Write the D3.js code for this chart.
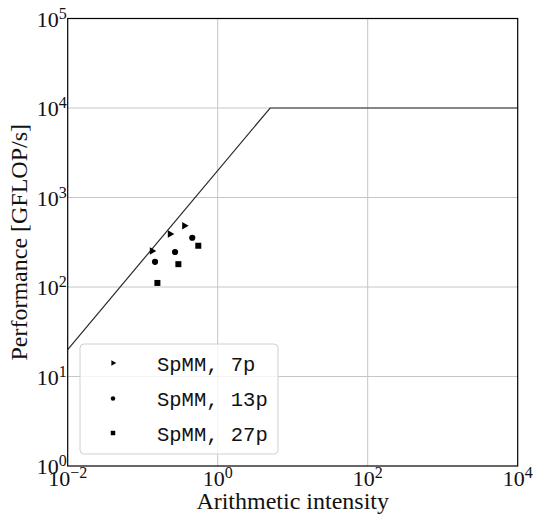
<!DOCTYPE html>
<html>
<head>
<meta charset="utf-8">
<script src="https://cdn.jsdelivr.net/npm/d3@7"></script>
<style>
  body { margin: 0; background: #fff; }
  svg { display: block; }
</style>
</head>
<body>
<svg id="chart" width="534" height="514"></svg>
<script>
// ---- data ----
const seriesNames = ["SpMM, 7p", "SpMM, 13p", "SpMM, 27p"];
const seriesSymbols = ["triangle", "circle", "square"];
const intensity7p = [0.133, 0.231, 0.359];
const perf7p = [252, 391, 484];
const intensity13p = [0.146, 0.270, 0.458];
const perf13p = [191, 246, 355];
const intensity27p = [0.157, 0.299, 0.551];
const perf27p = [111, 180, 289];
const peakPerf = 10000;      // GFLOP/s
const bandwidth = 2000;      // GB/s
const xTickExps = [-2, 0, 2, 4];
const yTickExps = [0, 1, 2, 3, 4, 5];
const xDomain = [1e-2, 1e4];
const yDomain = [1e0, 1e5];

// ---- layout ----
const svg = d3.select("#chart");
const L = 67.7, R = 517.7, T = 18.5, B = 466;
const x = d3.scaleLog().domain(xDomain).range([L, R]);
const y = d3.scaleLog().domain(yDomain).range([B, T]);

const serif = "'Liberation Serif', 'Times New Roman', serif";
const mono = "'Liberation Mono', 'Courier New', monospace";

// grid
svg.append("g").selectAll("line").data(xTickExps.slice(1, -1)).join("line")
  .attr("x1", d => x(Math.pow(10, d))).attr("x2", d => x(Math.pow(10, d)))
  .attr("y1", T).attr("y2", B)
  .attr("stroke", "#c6c6c6").attr("stroke-width", 1);
svg.append("g").selectAll("line").data(yTickExps.slice(1, -1)).join("line")
  .attr("y1", d => y(Math.pow(10, d))).attr("y2", d => y(Math.pow(10, d)))
  .attr("x1", L).attr("x2", R)
  .attr("stroke", "#c6c6c6").attr("stroke-width", 1);

// roofline
const knee = peakPerf / bandwidth;
const roof = [[xDomain[0], bandwidth * xDomain[0]], [knee, peakPerf], [xDomain[1], peakPerf]];
svg.append("path")
  .attr("d", d3.line().x(d => x(d[0])).y(d => y(d[1]))(roof))
  .attr("fill", "none").attr("stroke", "#2a2a2a").attr("stroke-width", 1.2);

// points
const symType = { triangle: d3.symbolTriangle, circle: d3.symbolCircle, square: d3.symbolSquare };
const symSize = { triangle: 24, circle: 30, square: 36 };
const symRot = { triangle: 90, circle: 0, square: 0 };
const series = [
  { xs: intensity7p, ys: perf7p },
  { xs: intensity13p, ys: perf13p },
  { xs: intensity27p, ys: perf27p }
];
series.forEach((s, i) => {
  const sym = seriesSymbols[i];
  const path = d3.symbol().type(symType[sym]).size(symSize[sym])();
  svg.append("g").selectAll("path").data(s.xs.map((v, j) => [v, s.ys[j]])).join("path")
    .attr("d", path)
    .attr("transform", d => `translate(${x(d[0])},${y(d[1])}) rotate(${symRot[sym]})`)
    .attr("fill", "#000");
});

// frame
svg.append("rect").attr("x", L).attr("y", T).attr("width", R - L).attr("height", B - T)
  .attr("fill", "none").attr("stroke", "#000").attr("stroke-width", 1.2);

// tick labels
function powLabel(g, exp) {
  g.append("tspan").text("10");
  g.append("tspan").attr("dy", -8).attr("font-size", 16).text(exp < 0 ? "\u22122" : String(exp));
}
xTickExps.forEach(e => {
  const t = svg.append("text").attr("x", x(Math.pow(10, e))).attr("y", B + 20)
    .attr("text-anchor", "middle").attr("font-family", serif).attr("font-size", 22).attr("fill", "#111");
  powLabel(t, e);
});
yTickExps.forEach(e => {
  const t = svg.append("text").attr("x", L - 1).attr("y", y(Math.pow(10, e)) + 8)
    .attr("text-anchor", "end").attr("font-family", serif).attr("font-size", 22).attr("fill", "#111");
  powLabel(t, e);
});

// axis titles
svg.append("text").attr("x", (L + R) / 2).attr("y", 508.5)
  .attr("text-anchor", "middle").attr("font-family", serif).attr("font-size", 24).attr("fill", "#111")
  .text("Arithmetic intensity");
svg.append("text").attr("transform", `translate(27,${(T + B) / 2}) rotate(-90)`)
  .attr("text-anchor", "middle").attr("font-family", serif).attr("font-size", 24).attr("fill", "#111")
  .text("Performance [GFLOP/s]");

// legend
const lg = svg.append("g");
lg.append("rect").attr("x", 80).attr("y", 344).attr("width", 198).attr("height", 110)
  .attr("rx", 4).attr("fill", "#fff").attr("fill-opacity", 0.8)
  .attr("stroke", "#d0d0d0").attr("stroke-width", 1);
const rowY = [363, 398.5, 433];
const legSize = { triangle: 14, circle: 16, square: 20 };
seriesNames.forEach((name, i) => {
  const sym = seriesSymbols[i];
  lg.append("path").attr("d", d3.symbol().type(symType[sym]).size(legSize[sym])())
    .attr("transform", `translate(113,${rowY[i]}) rotate(${symRot[sym]})`).attr("fill", "#000");
  lg.append("text").attr("x", 157).attr("y", rowY[i] + 7.5)
    .attr("font-family", mono).attr("font-size", 20.5).attr("fill", "#111")
    .attr("xml:space", "preserve").text(name);
});
</script>
</body>
</html>
